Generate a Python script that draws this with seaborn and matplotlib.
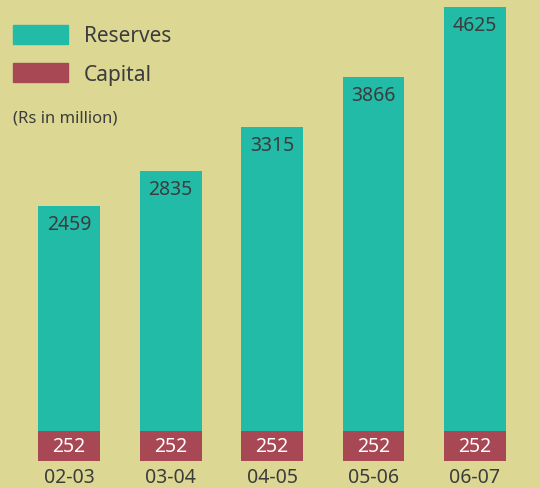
import matplotlib
matplotlib.use("Agg")
import matplotlib.pyplot as plt
import matplotlib.patches as mpatches
import seaborn as sns
import pandas as pd

years = ["02-03", "03-04", "04-05", "05-06", "06-07"]
reserves = [2459, 2835, 3315, 3866, 4625]
capital = [252, 252, 252, 252, 252]

BG = "#DCD894"
TEAL = "#22BBA8"
RED = "#A84855"
TXT = "#3C3C3C"

sns.set_theme(style="white")
plt.rcParams["font.family"] = ["Noto Sans", "DejaVu Sans"]

W, H = 540, 489
fig = plt.figure(figsize=(W / 100, H / 100), dpi=100, facecolor=BG)

df = pd.DataFrame({"year": years, "reserves": reserves, "capital": capital})

xl = (-69 / 101.5, (540 - 69) / 101.5)
bw = 62 / 101.5

# capital axes (bottom band)
axc = fig.add_axes([0, 27 / H, 1, 30 / H])
sns.barplot(data=df, x="year", y="capital", color=RED, width=bw,
            saturation=1, ax=axc, edgecolor="none")
axc.set_ylim(0, 252)
# reserves axes (above)
axr = fig.add_axes([0, 57 / H, 1, 432 / H])
sns.barplot(data=df, x="year", y="reserves", color=TEAL, width=bw,
            saturation=1, ax=axr, edgecolor="none")
axr.set_ylim(0, 4625 * 432 / 424)

for ax in (axc, axr):
    ax.set_xlim(*xl)
    ax.set_facecolor("none")
    for s in ax.spines.values():
        s.set_visible(False)
    ax.set_xlabel("")
    ax.set_ylabel("")
    ax.set_yticks([])

axr.set_xticks([])
axc.tick_params(axis="x", length=0, pad=4, labelsize=14, labelcolor=TXT)

for i, v in enumerate(reserves):
    axr.annotate(f"{v}", (i, v), xytext=(0, -18), textcoords="offset pixels",
                 ha="center", va="center", fontsize=14, color=TXT)
for i, v in enumerate(capital):
    axc.text(i, v / 2, f"{v}", ha="center", va="center", fontsize=14,
             color="white")

handles = [mpatches.Patch(color=TEAL, label="Reserves"),
           mpatches.Patch(color=RED, label="Capital")]
fig.legend(handles=handles, loc="upper left",
           bbox_to_anchor=(13 / W, 1 - 26 / H), frameon=False,
           fontsize=15, labelcolor=TXT, borderpad=0, borderaxespad=0,
           handlelength=2.65, handleheight=1.0, handletextpad=0.75,
           labelspacing=0.8)
fig.text(13 / W, 1 - 119 / H, "(Rs in million)", fontsize=12, color=TXT,
         ha="left", va="center")

fig.savefig("out.png", dpi=100, facecolor=BG)
